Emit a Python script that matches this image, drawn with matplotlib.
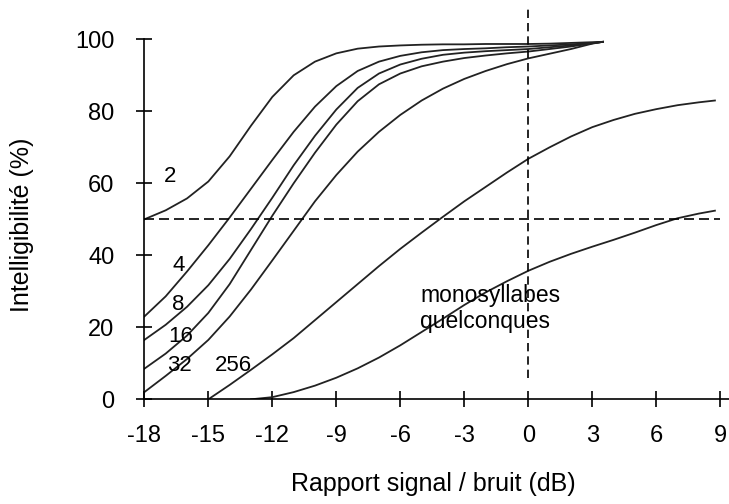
import matplotlib
matplotlib.use("Agg")
import matplotlib.pyplot as plt

plt.rcParams['font.family'] = ['Liberation Sans', 'DejaVu Sans']
plt.rcParams['axes.unicode_minus'] = False

# Courbes d'intelligibilité (taille du vocabulaire)
x_top = [-18, -17, -16, -15, -14, -13, -12, -11, -10, -9, -8, -7, -6, -5,
         -4, -3, -2, -1, 0, 1, 2, 3, 3.5]
y_2 = [50, 52.5, 55.8, 60.5, 67.5, 76, 84, 90, 93.8, 96.1, 97.4, 98.0, 98.3,
       98.5, 98.6, 98.6, 98.7, 98.7, 98.7, 98.8, 99.0, 99.2, 99.3]
y_4 = [23, 28.6, 35.5, 42.8, 50.5, 58.5, 66.5, 74.3, 81.3, 87, 91.2, 93.8, 95.4,
       96.4, 97.0, 97.3, 97.5, 97.8, 98.0, 98.3, 98.6, 99.0, 99.3]
y_8 = [16.5, 20.7, 25.7, 31.7, 39, 47.3, 56, 65, 73.2, 80.5, 86.5, 90.5, 93, 94.6,
       95.7, 96.3, 96.7, 97.0, 97.3, 97.8, 98.3, 98.9, 99.3]
y_16 = [8.5, 12.7, 17.7, 24, 32, 41.5, 51, 60, 68.5, 76.3, 82.8, 87.5, 90.5, 92.5,
        93.8, 94.8, 95.5, 96.1, 96.6, 97.3, 98.0, 98.9, 99.3]
y_32 = [2, 6.5, 11.2, 16.5, 23, 30.5, 38.6, 46.8, 55, 62.3, 68.8, 74.3, 79, 83,
        86.3, 89, 91.2, 93.1, 94.7, 96, 97.3, 98.8, 99.3]

x_256 = [-15, -14, -13, -12, -11, -10, -9, -8, -7, -6, -5, -4, -3, -2, -1, 0,
         1, 2, 3, 4, 5, 6, 7, 8, 8.75]
y_256 = [0, 4, 8.2, 12.5, 17, 22, 27, 32, 37, 41.8, 46.3, 50.7, 55, 59, 63, 66.8,
         70, 73, 75.6, 77.6, 79.3, 80.6, 81.7, 82.5, 83]

x_mono = [-13, -12, -11, -10, -9, -8, -7, -6, -5, -4, -3, -2, -1, 0, 1, 2, 3,
          4, 5, 6, 7, 8, 8.75]
y_mono = [0, 0.6, 2.0, 3.8, 6.0, 8.6, 11.6, 15.0, 18.7, 22.4, 26.2, 29.7, 32.8,
          35.7, 38.2, 40.4, 42.4, 44.3, 46.3, 48.4, 50.3, 51.6, 52.4]

labels = ['2', '4', '8', '16', '32', '256']
label_x = [-16.8, -16.4, -16.4, -16.3, -16.35, -13.83]
label_y = [61.8, 37.3, 26.2, 17.4, 9.5, 9.5]

xticks = [-18, -15, -12, -9, -6, -3, 0, 3, 6, 9]
xtick_labels = ['-18', '-15', '-12', '-9', '-6', '-3', '0', '3', '6', '9']
yticks = [0, 20, 40, 60, 80, 100]
ytick_labels = ['0', '20', '40', '60', '80', '100']

fig = plt.figure(figsize=(7.29, 5.04), dpi=100)
ax = fig.add_axes([0.198, 0.2077, 0.802, 0.7143])

col = '#222222'
for yy in [y_2, y_4, y_8, y_16, y_32]:
    ax.plot(x_top, yy, color=col, lw=1.3)
ax.plot(x_256, y_256, color=col, lw=1.3)
ax.plot(x_mono, y_mono, color=col, lw=1.3)

# repères à 50 % et 0 dB
ax.plot([-18, 9], [50, 50], color='black', lw=1.2, dashes=(6, 3))
ax.plot([0, 0], [6, 109], color='black', lw=1.2, dashes=(5, 3), clip_on=False)

for t, lx, ly in zip(labels, label_x, label_y):
    ax.text(lx, ly, t, fontsize=16, ha='center', va='center')
ax.text(-5.07, 25.2, 'monosyllabes\nquelconques', fontsize=16.5, ha='left',
        va='center', linespacing=1.2)

ax.set_xlim(-18, 9.41)
ax.set_ylim(0, 100)
ax.spines['top'].set_visible(False)
ax.spines['right'].set_visible(False)
ax.spines['left'].set_bounds(0, 100)
ax.spines['left'].set_linewidth(1.2)
ax.spines['bottom'].set_linewidth(1.2)

ax.set_xticks(xticks)
ax.set_xticklabels(xtick_labels)
ax.set_yticks(yticks)
ax.set_yticklabels(ytick_labels)
ax.tick_params(axis='both', direction='inout', length=11.5, width=1.2,
               labelsize=17)
ax.tick_params(axis='y', pad=15.8)
ax.tick_params(axis='x', pad=13)

fig.text(22 / 729, 1 - 225 / 504, 'Intelligibilité (%)', rotation=90,
         fontsize=18, ha='center', va='center')
fig.text(433 / 729, 1 - 484 / 504, 'Rapport signal / bruit (dB)',
         fontsize=18, ha='center', va='center')

fig.savefig('out.png', dpi=100)
